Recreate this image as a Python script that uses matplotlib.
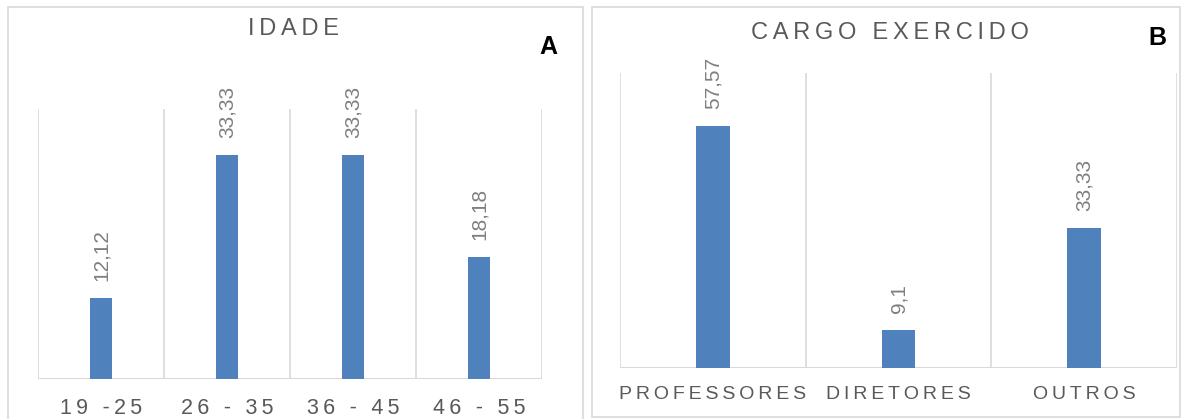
import matplotlib
matplotlib.use("Agg")
import matplotlib.pyplot as plt
from matplotlib.patches import Rectangle

# Data
idade_cats = ["19 -25", "26 - 35", "36 - 45", "46 - 55"]
idade_vals = [12.12, 33.33, 33.33, 18.18]
idade_labels = ["12,12", "33,33", "33,33", "18,18"]

cargo_cats = ["PROFESSORES", "DIRETORES", "OUTROS"]
cargo_vals = [57.57, 9.1, 33.33]
cargo_labels = ["57,57", "9,1", "33,33"]

BAR = "#4F81BD"
GRID = "#D9D9D9"
TXT = "#595959"
LBL = "#7F7F7F"
FAM = ["Liberation Sans", "DejaVu Sans"]

def sp(s, ch="\u2009"):
    return ch.join(s)

W, H = 1186, 419
fig = plt.figure(figsize=(W / 100, H / 100), dpi=100)

def ax_rect(x0, y0, x1, y1):
    return [x0 / W, 1 - y1 / H, (x1 - x0) / W, (y1 - y0) / H]

# Panel borders
for (x0, y0, x1, y1) in [(8, 7, 583, 425), (592, 7, 1180, 417)]:
    fig.patches.append(Rectangle((x0 / W, 1 - y1 / H), (x1 - x0) / W, (y1 - y0) / H,
                                 transform=fig.transFigure, fill=False,
                                 edgecolor=GRID, linewidth=1.2))

def panel(rect, cats, vals, labels, ymax, title, title_xy, letter, letter_xy, lab_fs, tick_y):
    ax = fig.add_axes(ax_rect(*rect))
    n = len(cats)
    x = list(range(n))
    ax.bar(x, vals, width=0.18, color=BAR, zorder=3)
    ax.set_xlim(-0.5, n - 0.5)
    ax.set_ylim(0, ymax)
    for b in [i - 0.5 for i in range(n + 1)]:
        ax.axvline(b, color=GRID, lw=1.2, zorder=1)
    for s in ax.spines.values():
        s.set_visible(False)
    ax.axhline(0, color=GRID, lw=1.5, zorder=2)
    ax.set_yticks([])
    ax.set_xticks(x)
    ax.set_xticklabels([sp(c) for c in cats], fontsize=lab_fs, color=TXT, family=FAM)
    ax.tick_params(axis="x", length=0, pad=tick_y)
    for xi, v, l in zip(x, vals, labels):
        ax.annotate(l, (xi, v), xytext=(0, 12), textcoords="offset points",
                    rotation=90, ha="center", va="bottom", fontsize=15,
                    color=LBL, family=FAM)
    fig.text(title_xy[0] / W, 1 - title_xy[1] / H, sp(title), ha="center", va="center",
             fontsize=17, color=TXT, family=FAM)
    fig.text(letter_xy[0] / W, 1 - letter_xy[1] / H, letter, ha="center", va="center",
             fontsize=18, fontweight="bold", color="black", family=FAM)
    return ax

panel((38, 109, 542, 379), idade_cats, idade_vals, idade_labels, 40.2,
      "IDADE", (294, 29), "A", (548, 47), 15.5, 14)
panel((620, 73, 1177, 368), cargo_cats, cargo_vals, cargo_labels, 70.2,
      "CARGO EXERCIDO", (890, 33), "B", (1157, 38), 14, 13)

fig.savefig("out.png", dpi=100)
